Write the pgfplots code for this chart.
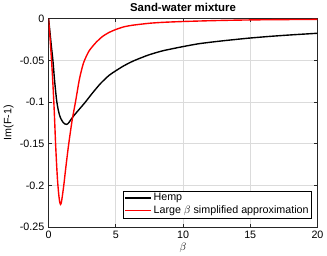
\documentclass[border=0pt]{standalone}
\usepackage{pgfplots}
\pgfplotsset{compat=1.18}
\usepackage{fontspec}
\setmainfont{Liberation Sans}
\begin{document}
\fontsize{10.8bp}{13bp}\selectfont
\begin{tikzpicture}
\begin{axis}[
  scale only axis, width=271bp, height=210bp,
  xmin=0, xmax=20, ymin=-0.25, ymax=0,
  xtick={0,5,10,15,20}, xticklabels={0,5,10,15,20},
  ytick={-0.25,-0.2,-0.15,-0.1,-0.05,0},
  yticklabels={-0.25,-0.2,-0.15,-0.1,-0.05,0},
  grid=major, major grid style={color=black!14, line width=0.7bp},
  axis line style={color=black!85, line width=0.8bp},
  tick style={color=black!85, line width=0.8bp},
  tick align=inside, major tick length=3bp,
  ticklabel style={font=\fontsize{10.8bp}{13bp}\selectfont},
  yticklabel style={xshift=-0.5bp},
  title={Sand-water mixture},
  title style={font=\fontsize{11.5bp}{13bp}\selectfont\bfseries, yshift=-3bp},
  xlabel={$\beta$}, ylabel={Im(F-1)},
  xlabel style={font=\fontsize{11bp}{13bp}\selectfont, yshift=3bp},
  ylabel style={font=\fontsize{10.8bp}{13bp}\selectfont, yshift=-1bp},
  legend style={at={(0.978,0.042)}, anchor=south east,
    font=\fontsize{10.8bp}{13bp}\selectfont, inner sep=0.8bp, row sep=-0.6bp},
  legend image code/.code={\draw[#1] (0bp,0bp) -- (26bp,0bp);},
  legend cell align=left,
]
\addplot[black, line width=1.4bp, smooth, tension=0.4] coordinates {
(0,0) (0.1,-0.016) (0.2,-0.032) (0.32,-0.05) (0.45,-0.075) (0.59,-0.097)
(0.7,-0.108) (0.8,-0.115) (0.9,-0.1195) (1.0,-0.1225) (1.1,-0.1248) (1.2,-0.1262) (1.32,-0.1268)
(1.42,-0.1262) (1.52,-0.1245) (1.63,-0.1218) (1.8,-0.1180) (2.0,-0.1140)
(2.4,-0.1065) (2.74,-0.1) (3.2,-0.0905) (3.85,-0.078) (4.5,-0.068)
(5,-0.0625) (5.6,-0.0565) (6.27,-0.051) (7,-0.0462) (7.5,-0.0432) (8.5,-0.0385)
(10,-0.0335) (11.2,-0.0300) (12.6,-0.0272) (14,-0.0248) (15,-0.0232)
(16.5,-0.0212) (18,-0.0195) (20,-0.0175)
};
\addlegendentry{Hemp}
\addplot[red, line width=1.4bp, smooth, tension=0.4] coordinates {
(0,0) (0.1,-0.022) (0.22,-0.05) (0.3,-0.072) (0.39,-0.1) (0.45,-0.122)
(0.52,-0.15) (0.6,-0.176) (0.67,-0.195) (0.75,-0.21) (0.82,-0.2195) (0.89,-0.2228)
(0.95,-0.2205) (1.03,-0.212) (1.13,-0.2) (1.3,-0.176) (1.5,-0.15)
(1.75,-0.122) (2.0,-0.1) (2.3,-0.072) (2.6,-0.053) (3.0,-0.039)
(3.5,-0.029) (4.0,-0.0215) (4.5,-0.0165) (5,-0.013) (5.6,-0.0098) (6.27,-0.0078)
(7.5,-0.0055) (8.5,-0.0044) (10,-0.0034) (12.6,-0.0022) (15,-0.0015)
(17.5,-0.0011) (20,-0.0009)
};
\addlegendentry{Large $\beta$ simplified approximation}
\end{axis}
\end{tikzpicture}
\end{document}
